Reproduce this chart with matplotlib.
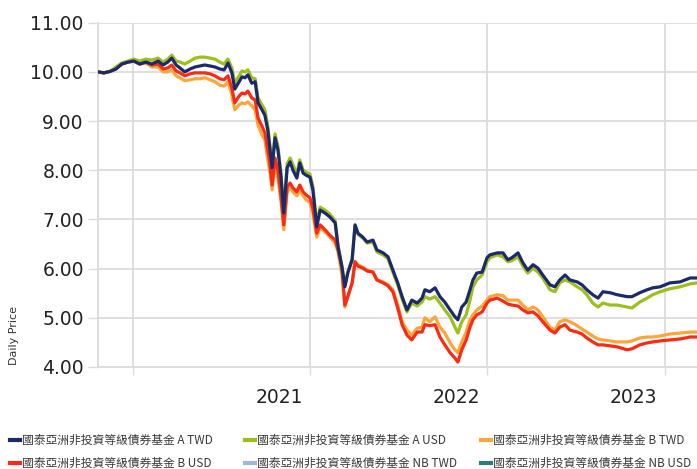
import matplotlib
matplotlib.use("Agg")
import matplotlib.pyplot as plt
from matplotlib.lines import Line2D
import pandas as pd

dates = [
    "2019-10-21", "2019-11-02", "2019-11-15", "2019-11-27", "2019-12-09", "2019-12-22",
    "2020-01-03", "2020-01-15", "2020-01-28", "2020-02-09", "2020-02-22", "2020-03-03",
    "2020-03-13", "2020-03-21", "2020-03-30", "2020-04-07", "2020-04-17", "2020-04-28",
    "2020-05-08", "2020-05-18", "2020-05-28", "2020-06-08", "2020-06-18", "2020-06-28",
    "2020-07-07", "2020-07-15", "2020-07-23", "2020-07-29", "2020-08-07", "2020-08-13",
    "2020-08-19", "2020-08-25", "2020-09-02", "2020-09-09", "2020-09-15", "2020-09-23",
    "2020-09-29", "2020-10-05", "2020-10-09", "2020-10-14", "2020-10-20", "2020-10-26",
    "2020-11-01", "2020-11-07", "2020-11-14", "2020-11-20", "2020-11-26", "2020-12-04",
    "2020-12-10", "2020-12-17", "2020-12-23", "2020-12-31", "2021-01-06", "2021-01-14",
    "2021-01-21", "2021-01-31", "2021-02-10", "2021-02-21", "2021-02-27", "2021-03-07",
    "2021-03-13", "2021-03-19", "2021-03-28", "2021-04-03", "2021-04-09", "2021-04-19",
    "2021-04-28", "2021-05-10", "2021-05-18", "2021-05-31", "2021-06-10", "2021-06-20",
    "2021-06-30", "2021-07-09", "2021-07-19", "2021-07-29", "2021-08-09", "2021-08-19",
    "2021-08-25", "2021-09-04", "2021-09-15", "2021-09-25", "2021-10-05", "2021-10-16",
    "2021-10-26", "2021-11-01", "2021-11-09", "2021-11-18", "2021-11-26", "2021-12-02",
    "2021-12-10", "2021-12-21", "2021-12-31", "2022-01-06", "2022-01-21", "2022-02-02",
    "2022-02-12", "2022-02-20", "2022-03-05", "2022-03-15", "2022-03-25", "2022-04-05",
    "2022-04-15", "2022-04-25", "2022-05-10", "2022-05-20", "2022-05-30", "2022-06-10",
    "2022-06-20", "2022-07-05", "2022-07-15", "2022-07-25", "2022-08-06", "2022-08-17",
    "2022-08-27", "2022-09-11", "2022-09-25", "2022-10-16", "2022-10-26", "2022-11-11",
    "2022-11-26", "2022-12-08", "2022-12-23", "2023-01-12", "2023-02-02", "2023-02-23",
    "2023-03-09",
]

a_twd = [
    10.00, 9.98, 10.01, 10.06, 10.16, 10.20, 10.22, 10.16, 10.20, 10.16, 10.22, 10.14,
    10.20, 10.28, 10.14, 10.08, 10.00, 10.06, 10.10, 10.12, 10.14, 10.12, 10.10, 10.06,
    10.04, 10.18, 9.98, 9.65, 9.80, 9.90, 9.88, 9.94, 9.77, 9.80, 9.37, 9.23,
    9.12, 8.82, 8.47, 8.05, 8.66, 8.41, 7.90, 7.13, 8.05, 8.17, 8.00, 7.84,
    8.15, 7.94, 7.90, 7.86, 7.60, 6.85, 7.19, 7.13, 7.05, 6.93, 6.44, 6.03,
    5.63, 5.91, 6.18, 6.89, 6.72, 6.64, 6.54, 6.58, 6.38, 6.32, 6.24, 5.97,
    5.71, 5.43, 5.16, 5.36, 5.30, 5.40, 5.57, 5.53, 5.61, 5.43, 5.32, 5.16,
    5.02, 4.96, 5.22, 5.32, 5.57, 5.77, 5.91, 5.93, 6.22, 6.28, 6.32, 6.32,
    6.18, 6.22, 6.32, 6.12, 5.97, 6.08, 6.01, 5.87, 5.67, 5.63, 5.77, 5.87,
    5.77, 5.73, 5.67, 5.57, 5.47, 5.40, 5.53, 5.51, 5.47, 5.43, 5.43, 5.51,
    5.57, 5.61, 5.63, 5.71, 5.73, 5.81, 5.81,
]

a_usd = [
    10.00, 9.98, 10.01, 10.10, 10.18, 10.22, 10.26, 10.22, 10.26, 10.24, 10.28, 10.20,
    10.26, 10.34, 10.22, 10.20, 10.16, 10.22, 10.28, 10.30, 10.30, 10.28, 10.26, 10.20,
    10.16, 10.26, 10.08, 9.77, 9.92, 10.02, 10.00, 10.04, 9.88, 9.86, 9.47, 9.33,
    9.23, 8.90, 8.55, 8.11, 8.74, 8.49, 7.96, 7.19, 8.13, 8.25, 8.11, 7.92,
    8.21, 8.00, 7.96, 7.92, 7.68, 6.91, 7.25, 7.19, 7.11, 6.97, 6.46, 6.05,
    5.65, 5.93, 6.20, 6.87, 6.70, 6.62, 6.52, 6.54, 6.34, 6.28, 6.20, 5.93,
    5.67, 5.38, 5.12, 5.30, 5.24, 5.32, 5.43, 5.38, 5.43, 5.30, 5.16, 5.02,
    4.81, 4.69, 4.92, 5.06, 5.36, 5.63, 5.77, 5.87, 6.14, 6.22, 6.28, 6.24,
    6.14, 6.16, 6.24, 6.05, 5.91, 6.01, 5.93, 5.81, 5.57, 5.53, 5.71, 5.77,
    5.73, 5.63, 5.57, 5.47, 5.30, 5.22, 5.30, 5.26, 5.26, 5.22, 5.20, 5.32,
    5.40, 5.47, 5.53, 5.59, 5.63, 5.69, 5.71,
]

b_twd = [
    10.00, 9.98, 10.01, 10.06, 10.16, 10.20, 10.22, 10.16, 10.18, 10.10, 10.10, 10.00,
    10.00, 10.04, 9.92, 9.88, 9.82, 9.84, 9.86, 9.86, 9.88, 9.84, 9.80, 9.73,
    9.71, 9.80, 9.53, 9.23, 9.33, 9.37, 9.35, 9.39, 9.31, 9.23, 8.92, 8.72,
    8.62, 8.21, 8.00, 7.60, 8.11, 7.84, 7.40, 6.79, 7.56, 7.64, 7.56, 7.48,
    7.60, 7.48, 7.40, 7.34, 7.13, 6.64, 6.83, 6.75, 6.64, 6.52, 6.34, 5.87,
    5.22, 5.43, 5.71, 6.14, 6.08, 6.03, 5.97, 5.93, 5.77, 5.73, 5.67, 5.57,
    5.26, 4.92, 4.75, 4.65, 4.79, 4.81, 5.00, 4.92, 5.02, 4.81, 4.69, 4.49,
    4.35, 4.29, 4.51, 4.71, 4.96, 5.06, 5.16, 5.24, 5.36, 5.43, 5.47, 5.45,
    5.36, 5.36, 5.36, 5.26, 5.16, 5.22, 5.16, 5.02, 4.81, 4.75, 4.92, 4.96,
    4.92, 4.84, 4.77, 4.71, 4.63, 4.57, 4.55, 4.53, 4.51, 4.51, 4.53, 4.59,
    4.61, 4.61, 4.63, 4.67, 4.69, 4.71, 4.71,
]

b_usd = [
    10.00, 9.98, 10.01, 10.06, 10.16, 10.20, 10.22, 10.16, 10.20, 10.14, 10.16, 10.06,
    10.08, 10.14, 10.02, 9.98, 9.92, 9.96, 9.98, 9.98, 9.98, 9.96, 9.92, 9.86,
    9.84, 9.92, 9.67, 9.37, 9.51, 9.57, 9.55, 9.61, 9.47, 9.43, 9.06, 8.90,
    8.76, 8.41, 8.17, 7.70, 8.25, 8.00, 7.50, 6.89, 7.66, 7.74, 7.64, 7.56,
    7.70, 7.56, 7.50, 7.44, 7.23, 6.72, 6.89, 6.79, 6.68, 6.58, 6.38, 6.01,
    5.26, 5.43, 5.71, 6.14, 6.05, 6.01, 5.95, 5.93, 5.77, 5.71, 5.65, 5.53,
    5.20, 4.86, 4.65, 4.55, 4.71, 4.71, 4.86, 4.84, 4.86, 4.61, 4.45, 4.29,
    4.18, 4.10, 4.35, 4.55, 4.81, 4.96, 5.06, 5.12, 5.30, 5.36, 5.40, 5.34,
    5.28, 5.26, 5.24, 5.16, 5.10, 5.12, 5.04, 4.92, 4.75, 4.69, 4.81, 4.86,
    4.75, 4.71, 4.67, 4.59, 4.51, 4.45, 4.45, 4.43, 4.41, 4.35, 4.37, 4.45,
    4.49, 4.51, 4.53, 4.55, 4.57, 4.61, 4.61,
]

series_names = [
    "國泰亞洲非投資等級債券基金 A TWD",
    "國泰亞洲非投資等級債券基金 A USD",
    "國泰亞洲非投資等級債券基金 B TWD",
    "國泰亞洲非投資等級債券基金 B USD",
    "國泰亞洲非投資等級債券基金 NB TWD",
    "國泰亞洲非投資等級債券基金 NB USD",
]
series_colors = ["#1b2a6b", "#9cbf1e", "#f9a63a", "#fb2a14", "#9fb5da", "#2a7d7b"]

y_ticks = [4, 5, 6, 7, 8, 9, 10, 11]
y_tick_labels = ["4.00", "5.00", "6.00", "7.00", "8.00", "9.00", "10.00", "11.00"]
grid_dates = ["2020-01-01", "2021-01-01", "2022-01-01", "2023-01-01"]
year_label_dates = ["2020-10-29", "2021-10-29", "2022-10-29"]
year_labels = ["2021", "2022", "2023"]
x_start, x_end = "2019-10-21", "2023-03-09"

x = pd.to_datetime(dates)

W, H = 697, 469
fig = plt.figure(figsize=(W / 100, H / 100), dpi=100)
ax = fig.add_axes([98 / W, 1 - 367 / H, 1 - 98 / W, (367 - 22.7) / H])

grid_col = "#dcdcdc"
ax.plot(x, b_twd, color=series_colors[2], lw=2.3, zorder=3, solid_joinstyle="round")
ax.plot(x, b_usd, color=series_colors[3], lw=2.3, zorder=4, solid_joinstyle="round")
ax.plot(x, a_usd, color=series_colors[1], lw=2.3, zorder=5, solid_joinstyle="round")
ax.plot(x, a_twd, color=series_colors[0], lw=2.3, zorder=6, solid_joinstyle="round")

ax.set_ylim(4, 11)
ax.set_xlim(pd.Timestamp(x_start), pd.Timestamp(x_end))
ax.set_yticks(y_ticks)
ax.set_yticklabels(y_tick_labels)
ax.set_xticks(pd.to_datetime(grid_dates))
ax.set_xticklabels([""] * len(grid_dates))
ax.set_xticks(pd.to_datetime(year_label_dates), minor=True)
ax.set_xticklabels(year_labels, minor=True)

ax.grid(True, which="major", color=grid_col, lw=1.3, zorder=0)
for s in ["top", "right"]:
    ax.spines[s].set_visible(False)
for s in ["left", "bottom"]:
    ax.spines[s].set_color(grid_col)
    ax.spines[s].set_linewidth(1.3)

ax.tick_params(axis="y", which="major", length=7.2, width=1.0, color=grid_col,
               labelsize=13.5, labelcolor="#222222", pad=3)
ax.tick_params(axis="x", which="major", length=6, width=1.0, color=grid_col)
ax.tick_params(axis="x", which="minor", length=0, labelsize=13.5, labelcolor="#222222", pad=15)

fig.text(14 / W, 1 - 335 / H, "Daily Price", rotation=90, ha="center", va="center",
         fontsize=8, color="#333333")

# legend laid out row by row in three fixed-width columns
col_x = [10, 245, 481]
order_by_column = [[0, 3], [1, 4], [2, 5]]
for cx, idxs in zip(col_x, order_by_column):
    handles = [Line2D([0], [0], color=series_colors[i], lw=3) for i in idxs]
    labels = [series_names[i] for i in idxs]
    leg = fig.legend(handles, labels, loc="center left",
                     bbox_to_anchor=(cx / W, 1 - 452 / H),
                     ncol=1, frameon=False, handlelength=0.85, handletextpad=0.2,
                     labelspacing=0.8, borderpad=0, borderaxespad=0,
                     prop={"family": ["Noto Sans CJK TC", "DejaVu Sans"], "size": 8.5})
    for t in leg.get_texts():
        t.set_color("#3a3a3a")

fig.savefig("out.png", dpi=100)
